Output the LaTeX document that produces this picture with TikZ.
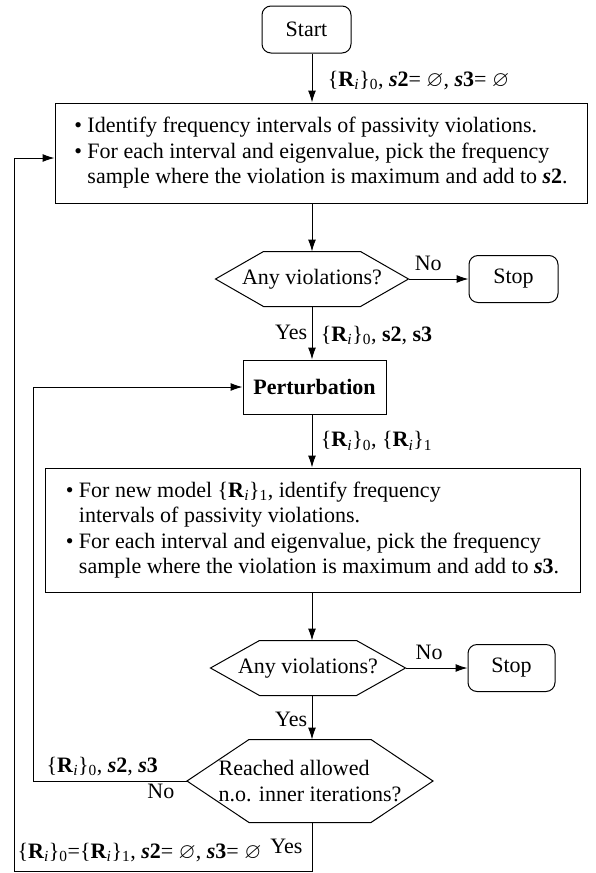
\documentclass[tikz,border=0pt]{standalone}
\usepackage{amssymb}
\usepackage{fontspec}
\setmainfont{Liberation Serif}
\usetikzlibrary{arrows.meta}
\newcommand{\Rset}[1]{\{\textbf{R}\textsubscript{\textit{i}}\}\textsubscript{#1}}
\newcommand{\sbi}[1]{\textbf{\textit{s}#1}}
\newcommand{\hexframe}[2]{\draw (#1.west) -- ([xshift=#2]#1.north west) -- ([xshift=-#2]#1.north east) -- (#1.east) -- ([xshift=-#2]#1.south east) -- ([xshift=#2]#1.south west) -- cycle;}
\tikzset{
  termbox/.style={draw, rounded corners=9pt},
  procbox/.style={draw, align=left},
  testbox/.style={align=left, inner sep=0pt},
}
\begin{document}
\begin{tikzpicture}[x=1pt, y=-1pt, line width=1pt, font=\fontsize{22}{25.5}\selectfont, >={Latex[length=12pt,width=8pt]}]
  \useasboundingbox (0,0) rectangle (595,873);
  \coordinate (col) at (312,0);
  \coordinate (inner) at (33,0);
  \coordinate (outer) at (14,871);
  \node[termbox, minimum width=89pt, minimum height=47pt] (start) at (306.5,29.5) {Start};
  \node[procbox, minimum width=532pt, minimum height=100pt] (find1) at (321,153)
    {\textbullet\ Identify frequency intervals of passivity violations.\\
     \textbullet\ For each interval and eigenvalue, pick the frequency\\
     \phantom{\textbullet\ }sample where the violation is maximum and add to \sbi{2}.};
  \node[testbox, minimum width=192pt, minimum height=54pt] (viol1) at (312,279) {Any violations?};
  \node[termbox, minimum width=89pt, minimum height=47pt] (stop1) at (513.5,279) {Stop};
  \node[procbox, minimum width=143pt, minimum height=54pt, font=\fontsize{22}{25.5}\selectfont\bfseries] (pert) at (314.5,387) {Perturbation};
  \node[procbox, minimum width=535pt, minimum height=124pt] (find2) at (312.5,530)
    {\textbullet\ For new model \Rset{1}, identify frequency\\
     \phantom{\textbullet\ }intervals of passivity violations.\\
     \textbullet\ For each interval and eigenvalue, pick the frequency\\
     \phantom{\textbullet\ }sample where the violation is maximum and add to \sbi{3}.};
  \node[testbox, minimum width=194pt, minimum height=54pt] (viol2) at (308,668) {Any violations?};
  \node[termbox, minimum width=87pt, minimum height=47pt] (stop2) at (511.5,668) {Stop};
  \node[testbox, minimum width=245pt, minimum height=82pt] (limit) at (310,781) {Reached allowed\\n.o. inner iterations?};
  \hexframe{viol1}{48pt}
  \hexframe{viol2}{49pt}
  \hexframe{limit}{62pt}
  \coordinate (corner) at (col |- outer);

  \draw[->] (start.south -| col) -- (find1.north -| col)
    node[pos=0.55, right=12pt] (lab0) {\Rset{0}, \sbi{2}= $\varnothing$, \sbi{3}= $\varnothing$};
  \draw[->] (find1.south -| col) -- (viol1.north -| col);
  \draw[->] (viol1.east) -- (stop1.west) node[pos=0.33, above=4pt] (no1) {No};
  \draw[->] (viol1.south -| col) -- (pert.north -| col)
    node[pos=0.48, left=1pt] (yes1) {Yes}
    node[pos=0.55, right=5pt] (lab1) {\Rset{0}, \textbf{s2}, \textbf{s3}};
  \draw[->] (pert.south -| col) -- (find2.north -| col)
    node[pos=0.5, right=5pt] (lab2) {\Rset{0}, \Rset{1}};
  \draw[->] (find2.south -| col) -- (viol2.north -| col);
  \draw[->] (viol2.east) -- (stop2.west) node[pos=0.38, above=4pt] (no2) {No};
  \draw[->] (viol2.south -| col) -- (limit.north -| col)
    node[pos=0.55, left=1pt] (yes2) {Yes};
  \draw[->] (limit.west) -- (limit.west -| inner)
    node[pos=0.17, below=-1pt] (no3) {No}
    node[pos=0.55, above=1pt] (lab3) {\Rset{0}, \sbi{2}, \sbi{3}}
    |- (pert.west);
  \draw[->] (limit.south -| col) -- (corner) -- (outer) |- ([yshift=-5pt]find1.west);
  \node[anchor=base west, inner sep=0pt] (lab4) at ([xshift=3pt,yshift=13pt]outer)
    {\Rset{0}=\Rset{1}, \sbi{2}= $\varnothing$, \sbi{3}= $\varnothing$};
  \node[anchor=base east, inner sep=0pt] (yes3) at ([xshift=-9pt,yshift=18pt]corner) {Yes};
\end{tikzpicture}
\end{document}
